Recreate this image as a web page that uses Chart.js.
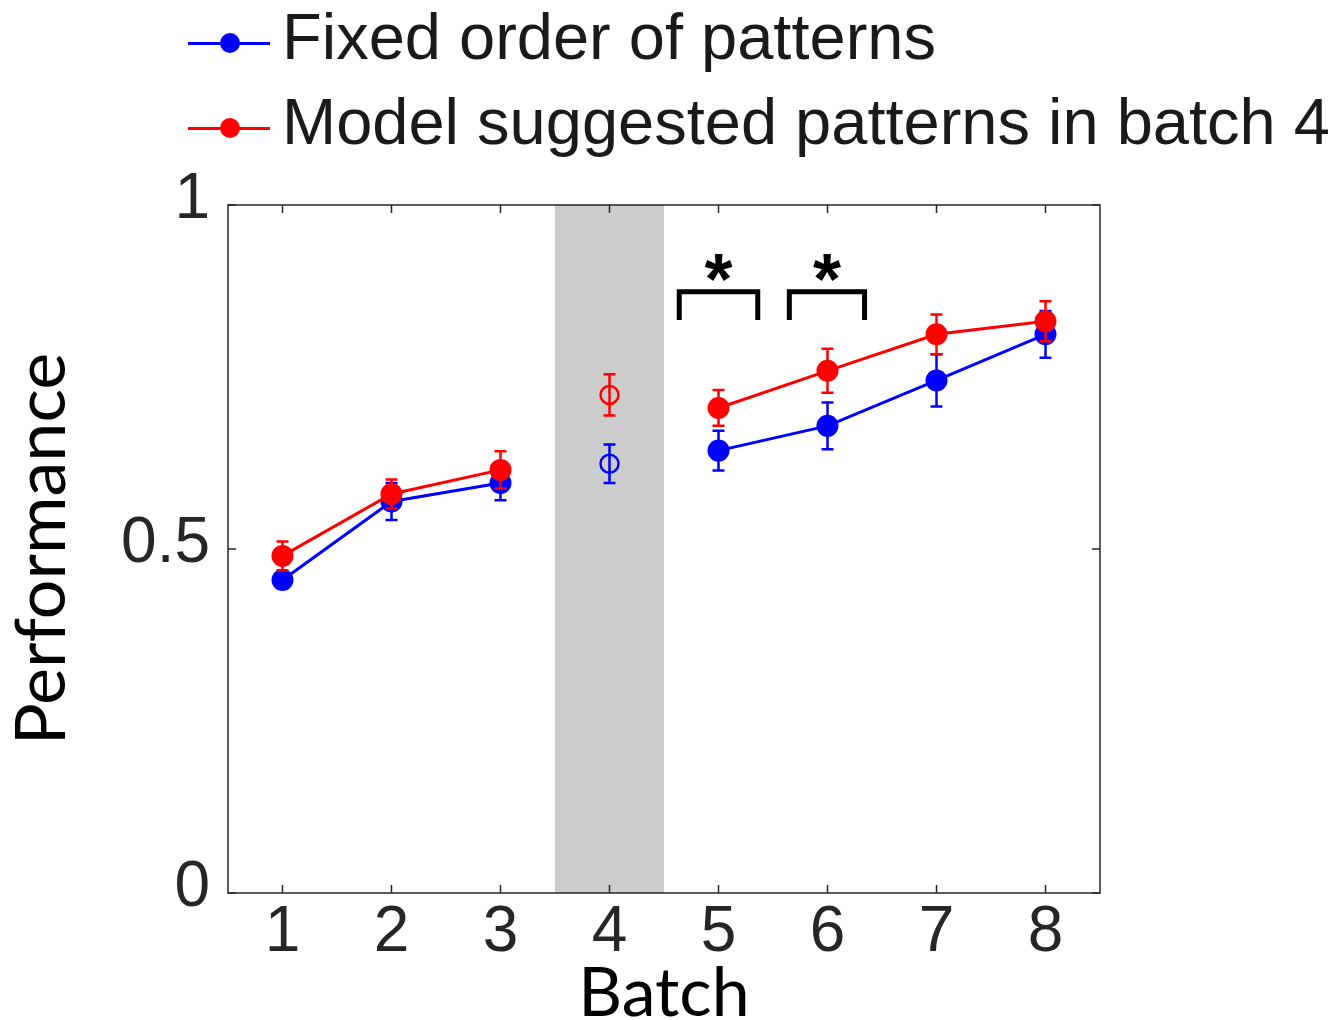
<!DOCTYPE html>
<html>
<head>
<meta charset="utf-8">
<script src="https://cdn.jsdelivr.net/npm/chart.js@4.4.1/dist/chart.umd.min.js"></script>
<style>
  body { margin: 0; background: #fff; }
  #wrap { position: relative; width: 1340px; height: 1020px; }
  .leg { position: absolute; left: 188px; height: 66px; line-height: 66px; white-space: nowrap;
         font: 65px "Liberation Sans", Arial, sans-serif; color: #1a1a1a; }
  .leg .ln { position: absolute; left: 0; top: 42.5px; width: 82px; height: 3px; }
  .leg .dot { position: absolute; left: 32px; top: 34px; width: 20px; height: 20px; border-radius: 50%; }
  .leg .tx { position: absolute; left: 94px; top: 0; }
</style>
</head>
<body>
<div id="wrap">
  <canvas id="perf-chart" width="1340" height="1020"></canvas>
  <div class="leg" style="top:-1px">
    <span class="ln" style="background:#0000ff"></span><span class="dot" style="background:#0000ff"></span>
    <span class="tx">Fixed order of patterns</span>
  </div>
  <div class="leg" style="top:84px">
    <span class="ln" style="background:#ff0000"></span><span class="dot" style="background:#ff0000"></span>
    <span class="tx">Model suggested patterns in batch 4</span>
  </div>
</div>
<script>
// data
const batches = [1, 2, 3, 4, 5, 6, 7, 8];
const fixedMean = [0.455, 0.569, 0.596, 0.624, 0.643, 0.679, 0.745, 0.812];
const fixedErr  = [0.012, 0.027, 0.025, 0.028, 0.029, 0.034, 0.038, 0.034];
const modelMean = [0.490, 0.580, 0.615, 0.724, 0.705, 0.759, 0.812, 0.831];
const modelErr  = [0.021, 0.021, 0.027, 0.030, 0.026, 0.032, 0.029, 0.029];
const yTicks = [0, 0.5, 1];
const shadedBatch = 4;
// significance brackets: [left, right] in batch units
const brackets = [[4.64, 5.36], [5.65, 6.34]];
const bracketLow = 0.833;
const bracketHigh = 0.874;
const starLevel = 0.905;

const BLUE = '#0000ff';
const RED = '#ff0000';
const INK = '#262626';

function lineData(means) {
    return batches.map((b, i) => ({ x: b, y: b === shadedBatch ? null : means[i] }));
}
function shadedPoint(means) {
    const i = batches.indexOf(shadedBatch);
    return [{ x: shadedBatch, y: means[i] }];
}

const datasets = [
    {
        label: 'Model suggested patterns in batch 4',
        data: lineData(modelMean),
        means: modelMean, errs: modelErr,
        borderColor: RED, backgroundColor: RED,
        borderWidth: 3, pointRadius: 11, pointBorderWidth: 0, spanGaps: false
    },
    {
        label: 'Fixed order of patterns',
        data: lineData(fixedMean),
        means: fixedMean, errs: fixedErr,
        borderColor: BLUE, backgroundColor: BLUE,
        borderWidth: 3, pointRadius: 11, pointBorderWidth: 0, spanGaps: false
    },
    {
        data: shadedPoint(modelMean), showLine: false,
        borderColor: RED, backgroundColor: 'rgba(0,0,0,0)',
        pointRadius: 9, pointBorderWidth: 2.5
    },
    {
        data: shadedPoint(fixedMean), showLine: false,
        borderColor: BLUE, backgroundColor: 'rgba(0,0,0,0)',
        pointRadius: 9, pointBorderWidth: 2.5
    }
];
brackets.forEach(([a, b]) => {
    datasets.push({
        data: [{ x: a, y: bracketLow }, { x: a, y: bracketHigh }, { x: b, y: bracketHigh }, { x: b, y: bracketLow }],
        borderColor: '#000', borderWidth: 5, pointRadius: 0, borderJoinStyle: 'miter', borderCapStyle: 'butt'
    });
});

// grey band behind batch 4
const bandPlugin = {
    id: 'band',
    beforeDatasetsDraw(chart) {
        const { ctx, chartArea, scales: { x } } = chart;
        const x0 = x.getPixelForValue(shadedBatch - 0.5);
        const x1 = x.getPixelForValue(shadedBatch + 0.5);
        ctx.save();
        ctx.fillStyle = '#cccccc';
        ctx.fillRect(x0, chartArea.top, x1 - x0, chartArea.bottom - chartArea.top);
        ctx.restore();
    }
};

// error bars drawn right after each series so the red one sits on top
const errorBarPlugin = {
    id: 'errorBars',
    afterDatasetDraw(chart, args) {
        const ds = chart.data.datasets[args.index];
        if (!ds.errs) return;
        const { ctx, scales: { x, y } } = chart;
        ctx.save();
        ctx.strokeStyle = ds.borderColor;
        ctx.lineWidth = 2.5;
        batches.forEach((b, i) => {
            const px = x.getPixelForValue(b);
            const yTop = y.getPixelForValue(ds.means[i] + ds.errs[i]);
            const yBot = y.getPixelForValue(ds.means[i] - ds.errs[i]);
            ctx.beginPath();
            ctx.moveTo(px, yTop); ctx.lineTo(px, yBot);
            ctx.moveTo(px - 6, yTop); ctx.lineTo(px + 6, yTop);
            ctx.moveTo(px - 6, yBot); ctx.lineTo(px + 6, yBot);
            ctx.stroke();
        });
        ctx.restore();
    }
};

// matlab style box with inward ticks, plus the asterisks
const framePlugin = {
    id: 'frame',
    afterDraw(chart) {
        const { ctx, chartArea: { left, right, top, bottom }, scales: { x, y } } = chart;
        ctx.save();
        ctx.strokeStyle = INK;
        ctx.lineWidth = 1.5;
        ctx.strokeRect(left, top, right - left, bottom - top);
        ctx.beginPath();
        batches.forEach(b => {
            const px = x.getPixelForValue(b);
            ctx.moveTo(px, bottom); ctx.lineTo(px, bottom - 8);
            ctx.moveTo(px, top); ctx.lineTo(px, top + 8);
        });
        yTicks.forEach(v => {
            const py = y.getPixelForValue(v);
            ctx.moveTo(left, py); ctx.lineTo(left + 8, py);
            ctx.moveTo(right, py); ctx.lineTo(right - 8, py);
        });
        ctx.stroke();

        ctx.fillStyle = '#000';
        ctx.font = 'bold 72px "Liberation Sans", Arial, sans-serif';
        ctx.textAlign = 'center';
        ctx.textBaseline = 'middle';
        brackets.forEach(([a, b]) => {
            ctx.fillText('*', x.getPixelForValue((a + b) / 2), y.getPixelForValue(starLevel) + 14);
        });
        ctx.restore();
    }
};

Chart.defaults.font.family = '"Liberation Sans", Arial, sans-serif';
Chart.defaults.color = INK;

new Chart(document.getElementById('perf-chart').getContext('2d'), {
    type: 'line',
    data: { datasets },
    options: {
        responsive: false,
        animation: false,
        layout: { padding: { top: 205, right: 240, left: 0, bottom: 0 } },
        plugins: { legend: { display: false }, tooltip: { enabled: false } },
        scales: {
            x: {
                type: 'linear', min: 0.5, max: 8.5,
                afterBuildTicks: s => { s.ticks = batches.map(v => ({ value: v })); },
                afterFit: s => { s.height = 127; },
                grid: { display: false, drawTicks: false },
                border: { display: false },
                ticks: { font: { size: 64 }, color: INK, padding: 2, maxRotation: 0 },
                title: {
                    display: true, text: 'Batch', color: '#000',
                    font: { family: 'Lato, "Open Sans", sans-serif', size: 68, lineHeight: 0.76 },
                    padding: 0
                }
            },
            y: {
                min: 0, max: 1,
                afterBuildTicks: s => { s.ticks = yTicks.map(v => ({ value: v })); },
                afterFit: s => { s.width = 228; },
                grid: { display: false, drawTicks: false },
                border: { display: false },
                ticks: { font: { size: 64 }, color: INK, padding: 18, labelOffset: -5, callback: v => String(v) },
                title: {
                    display: true, text: 'Performance', color: '#000',
                    font: { family: 'Lato, "Open Sans", sans-serif', size: 70, lineHeight: 1.2 },
                    padding: 0
                }
            }
        }
    },
    plugins: [bandPlugin, errorBarPlugin, framePlugin]
});
</script>
</body>
</html>
